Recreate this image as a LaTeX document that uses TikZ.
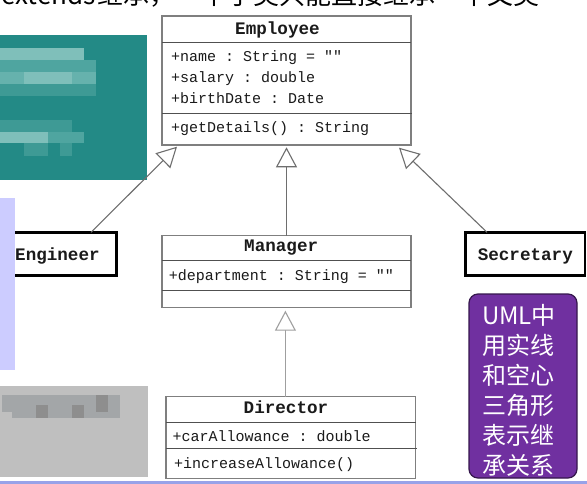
\documentclass[tikz,border=0pt]{standalone}
\usepackage{fontspec}
\setmainfont{Liberation Serif}
\setmonofont{Liberation Mono}
\newfontfamily\cjkfont{Noto Sans CJK SC}
\usetikzlibrary{arrows.meta}
\definecolor{tealbg}{HTML}{238A86}
\definecolor{tealA}{HTML}{7FBFBA}
\definecolor{tealB}{HTML}{4FA5A0}
\definecolor{tealC}{HTML}{66B2AD}
\definecolor{tealD}{HTML}{3E9A95}
\definecolor{lav}{HTML}{CCCCFF}
\definecolor{graybg}{HTML}{BFBFBF}
\definecolor{grayA}{HTML}{A3A6A8}
\definecolor{grayB}{HTML}{8E8E8E}
\definecolor{umlgray}{HTML}{7F7F7F}
\definecolor{sepgray}{HTML}{505050}
\definecolor{linegray}{HTML}{6E6E6E}
\definecolor{textdark}{HTML}{1A1A1A}
\definecolor{purpleF}{HTML}{7030A0}
\definecolor{purpleD}{HTML}{35174D}
\definecolor{bottomline}{HTML}{98A2E8}
\tikzset{
  umlbox/.style={draw=umlgray, line width=1.1pt, fill=white, inner sep=0pt, outer sep=0pt, rectangle},
  plainbox/.style={draw=black, line width=2.6pt, fill=white, inner sep=0pt, outer sep=0pt, rectangle},
  sepline/.style={draw=sepgray, line width=1pt},
  ttl/.style={font=\ttfamily\bfseries\fontsize{17.6}{20}\selectfont, text=textdark, inner sep=0pt, anchor=west, text height=10.5pt, text depth=0pt},
  attr/.style={font=\ttfamily\fontsize{15}{18}\selectfont, text=textdark, inner sep=0pt, anchor=west, text height=9pt, text depth=0pt},
  inh/.style={draw=linegray, line width=1.1pt, -{Triangle[length=20pt, width=21pt, fill=white]}},
  inhlight/.style={inh, draw=gray!75},
}
\begin{document}
\begin{tikzpicture}[x=1pt, y=-1pt]
\useasboundingbox (0,0) rectangle (587,484);
\clip (0,0) rectangle (587,484);
\fill[white] (0,0) rectangle (587,484);

% clipped heading
\node[anchor=base east, inner sep=0pt, font=\cjkfont\fontsize{26}{30}\selectfont] (hdrA) at (96,5) {Java extends};
\node[anchor=base west, inner sep=0pt, font=\cjkfont\fontsize{26}{30}\selectfont] (hdrB) at (97,5) {继承，一个子类只能直接继承一个父类};

% teal blurred block
\fill[tealbg] (0,35) rectangle (147,180);
\fill[tealA] (0,48) rectangle (84,60);
\fill[tealB] (0,60) rectangle (96,72);
\fill[tealC] (0,72) rectangle (96,84);
\fill[tealA] (24,72) rectangle (72,84);
\fill[tealD] (0,84) rectangle (96,96);
\fill[tealD] (0,120) rectangle (72,132);
\fill[tealA] (0,132) rectangle (48,143);
\fill[tealB] (48,132) rectangle (84,143);
\fill[tealD] (24,143) rectangle (48,156);
\fill[tealD] (60,143) rectangle (72,156);

% gray blurred block
\fill[graybg] (0,386) rectangle (148,477);
\fill[grayA] (2,395) rectangle (120,412);
\fill[grayA] (12,405) rectangle (120,418);
\fill[grayB] (36,405) rectangle (48,418);
\fill[grayB] (72,405) rectangle (84,418);
\fill[grayB] (96,395) rectangle (108,412);

% Employee
\node[umlbox, minimum width=249pt, minimum height=129pt] (emp) at (286.5,80.5) {};
\draw[sepline] (162,42.3) -- (411,42.3);
\draw[sepline] (162,114) -- (412,114);
\node[ttl] (empT) at (235,29.3) {Employee};
\node[attr] (empA1) at (171,57.3) {+name : String = ""};
\node[attr] (empA2) at (171,78) {+salary : double};
\node[attr] (empA3) at (171,99) {+birthDate : Date};
\node[attr] (empM1) at (171,128.3) {+getDetails() : String};

% Engineer
\node[plainbox, minimum width=117.5pt, minimum height=43.4pt] (eng) at (57.75,254) {};
\node[ttl] (engT) at (15,255) {Engineer};

% lavender strip
\fill[lav] (0,198) rectangle (15,370);

% Secretary
\node[plainbox, minimum width=119.4pt, minimum height=43.4pt] (sec) at (525.3,254) {};
\node[ttl] (secT) at (477.6,255) {Secretary};

% Manager
\node[umlbox, minimum width=249pt, minimum height=72pt] (mgr) at (286.5,271.7) {};
\draw[sepline] (162,260.7) -- (411,260.7);
\draw[sepline] (162,290) -- (411,290);
\node[ttl] (mgrT) at (244,246.7) {Manager};
\node[attr] (mgrA1) at (168.6,275.7) {+department : String = ""};

% Director
\node[umlbox, minimum width=249.8pt, minimum height=81.6pt] (dir) at (290.9,437.5) {};
\draw[sepline] (166,422.3) -- (415.8,422.3);
\draw[sepline] (166,448.3) -- (416.5,448.3);
\node[ttl] (dirT) at (243.5,408.3) {Director};
\node[attr] (dirA1) at (172.3,436.7) {+carAllowance : double};
\node[attr] (dirM1) at (174,464) {+increaseAllowance()};

% connector end points
\coordinate (apL) at (177,146.7);
\coordinate (apM) at (286.5,147.3);
\coordinate (apR) at (399,147.7);
\coordinate (apD) at (285.4,310.7);
\coordinate (engtop) at (91,232.3);
\coordinate (sectop) at (487,232.3);
\coordinate (dirtop) at (285.4,396.7);

\draw[inh] (engtop) -- (apL);
\draw[inh] (mgr.north) -- (apM);
\draw[inh] (sectop) -- (apR);
\draw[inhlight] (dirtop) -- (apD);

% note
\node[draw=purpleD, fill=purpleF, line width=1.2pt, rounded corners=9pt, minimum width=108pt, minimum height=184pt, inner sep=0pt] (note) at (523,386) {};
\node[inner sep=0pt, align=left, text=white, font=\cjkfont\fontsize{24}{30}\selectfont] (noteT) at (519,390) {UML中\\用实线\\和空心\\三角形\\表示继\\承关系};

% bottom rule
\fill[bottomline] (0,481) rectangle (587,484);
\end{tikzpicture}
\end{document}
